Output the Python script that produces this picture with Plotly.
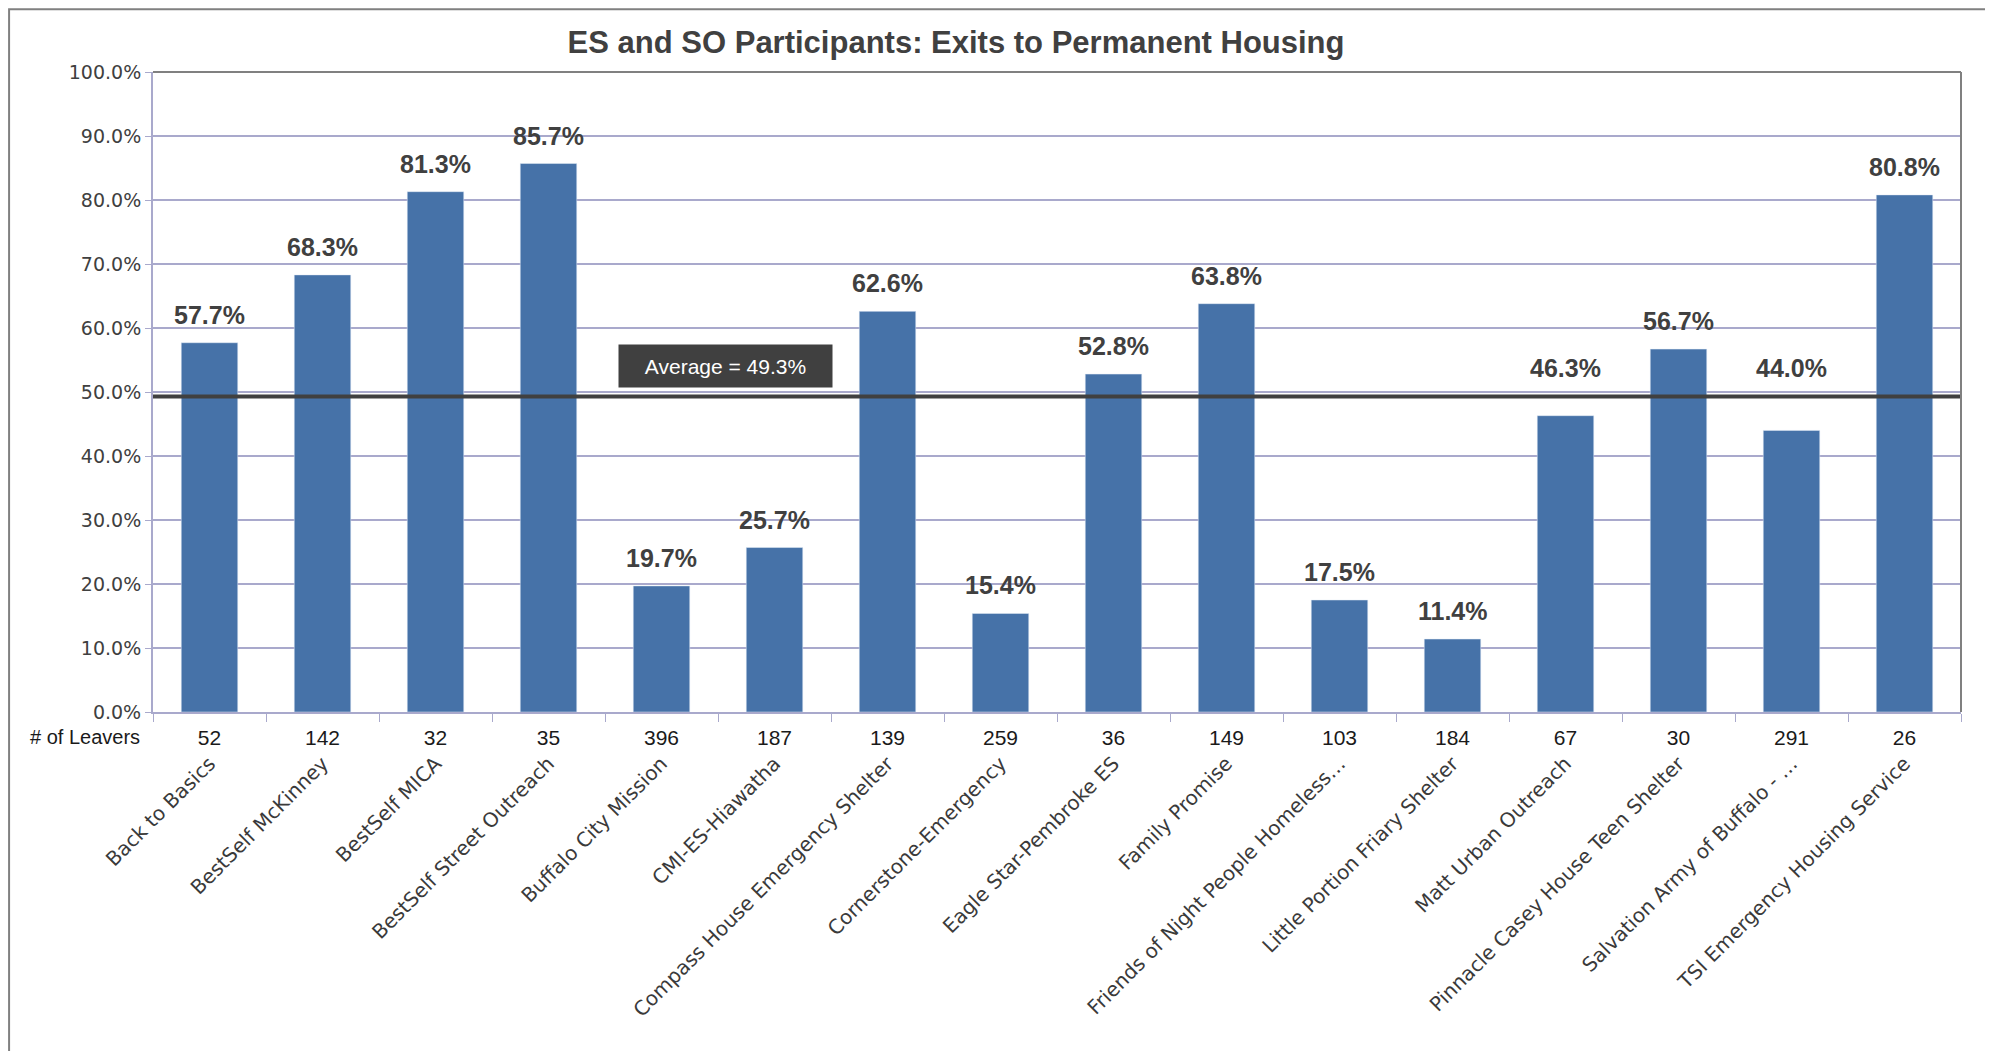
import plotly.graph_objects as go

# chart data
programs = [
    "Back to Basics", "BestSelf McKinney", "BestSelf MICA", "BestSelf Street Outreach",
    "Buffalo City Mission", "CMI-ES-Hiawatha", "Compass House Emergency Shelter",
    "Cornerstone-Emergency", "Eagle Star-Pembroke ES", "Family Promise",
    "Friends of Night People Homeless…", "Little Portion Friary Shelter",
    "Matt Urban Outreach", "Pinnacle Casey House Teen Shelter",
    "Salvation Army of Buffalo - …", "TSI Emergency Housing Service",
]
pct_permanent = [57.7, 68.3, 81.3, 85.7, 19.7, 25.7, 62.6, 15.4,
                 52.8, 63.8, 17.5, 11.4, 46.3, 56.7, 44.0, 80.8]
leavers = [52, 142, 32, 35, 396, 187, 139, 259, 36, 149, 103, 184, 67, 30, 291, 26]
average_pct = 49.3
y_ticks = [0, 10, 20, 30, 40, 50, 60, 70, 80, 90, 100]

BAR = "#4672A8"
GRID = "#A9A9CC"
DARK = "#404040"
BORDER = "#808080"

fig = go.Figure()
fig.add_trace(go.Bar(x=programs, y=pct_permanent, marker_color=BAR,
                     showlegend=False, hoverinfo="skip"))
# invisible trace so the second (rotated name) axis is drawn
fig.add_trace(go.Scatter(x=programs, y=pct_permanent, xaxis="x2", mode="markers",
                         marker=dict(opacity=0), showlegend=False, hoverinfo="skip"))

for name, val in zip(programs, pct_permanent):
    # labels just under the average line are lifted above it
    label_y = average_pct if 0 < average_pct - val < 8 else val
    fig.add_annotation(x=name, y=label_y, text=f"{val:.1f}%", showarrow=False,
                       yanchor="bottom", yshift=12,
                       font=dict(family="Liberation Sans", size=25, color=DARK, weight="bold"))

fig.add_annotation(x=-0.006, xref="paper", y=-0.039, yref="paper", text="# of Leavers",
                   showarrow=False, xanchor="right", yanchor="middle",
                   font=dict(family="Liberation Sans", size=20, color="#1a1a1a"))

# average line and its label
fig.add_shape(type="line", xref="paper", x0=0, x1=1, y0=average_pct, y1=average_pct,
              line=dict(color=DARK, width=4))
fig.add_annotation(x=0.3167, xref="paper", xanchor="center", y=average_pct,
                   text=f"Average = {average_pct:.1f}%",
                   showarrow=False, yanchor="bottom", yshift=8, width=213, height=42,
                   bgcolor=DARK, borderpad=0,
                   font=dict(family="Liberation Sans", size=21, color="white"))

# plot area top/right border and outer chart frame
fig.add_shape(type="line", xref="paper", yref="paper", x0=0, x1=1, y0=1, y1=1,
              line=dict(color=BORDER, width=2))
fig.add_shape(type="line", xref="paper", yref="paper", x0=1, x1=1, y0=0, y1=1,
              line=dict(color=BORDER, width=2))
fig.add_shape(type="path", xref="paper", yref="paper",
              path="M -0.0796,-0.6 L -0.0796,1.098 L 1.0149,1.098 L 1.0149,-0.6",
              line=dict(color=BORDER, width=2))

fig.update_layout(
    width=1993, height=1051,
    margin=dict(l=145, r=40, t=64, b=347),
    paper_bgcolor="white", plot_bgcolor="white",
    bargap=0.5,
    title=dict(text="<b>ES and SO Participants: Exits to Permanent Housing</b>",
               x=0.4757, xanchor="center", y=0.9676, yanchor="middle",
               font=dict(family="Liberation Sans", size=31, color=DARK)),
    xaxis=dict(type="category", categoryorder="array", categoryarray=programs,
               range=[-0.5, len(programs) - 0.5],
               tickvals=programs, ticktext=[str(n) for n in leavers],
               tickson="boundaries", ticks="outside", ticklen=8, tickcolor=GRID,
               ticklabelstandoff=6,
               showline=True, linecolor=GRID, linewidth=2, showgrid=False,
               tickfont=dict(family="Liberation Sans", size=21, color="#1a1a1a")),
    xaxis2=dict(type="category", categoryorder="array", categoryarray=programs,
                overlaying="x", side="bottom", anchor="y",
                range=[-0.5, len(programs) - 0.5],
                tickvals=programs, ticktext=programs, tickangle=-45,
                ticklabelstandoff=35, ticks="", showline=False, showgrid=False,
                tickfont=dict(family="DejaVu Sans", size=20, color="#3a3a3a")),
    yaxis=dict(range=[0, 100], tickvals=y_ticks,
               ticktext=[f"{t:.1f}%" for t in y_ticks],
               ticks="outside", ticklen=6, tickcolor=GRID,
               showline=True, linecolor=GRID, linewidth=2,
               gridcolor=GRID, gridwidth=2, zeroline=False,
               tickfont=dict(family="DejaVu Sans", size=19, color=DARK)),
)

fig.write_html("out.html")
